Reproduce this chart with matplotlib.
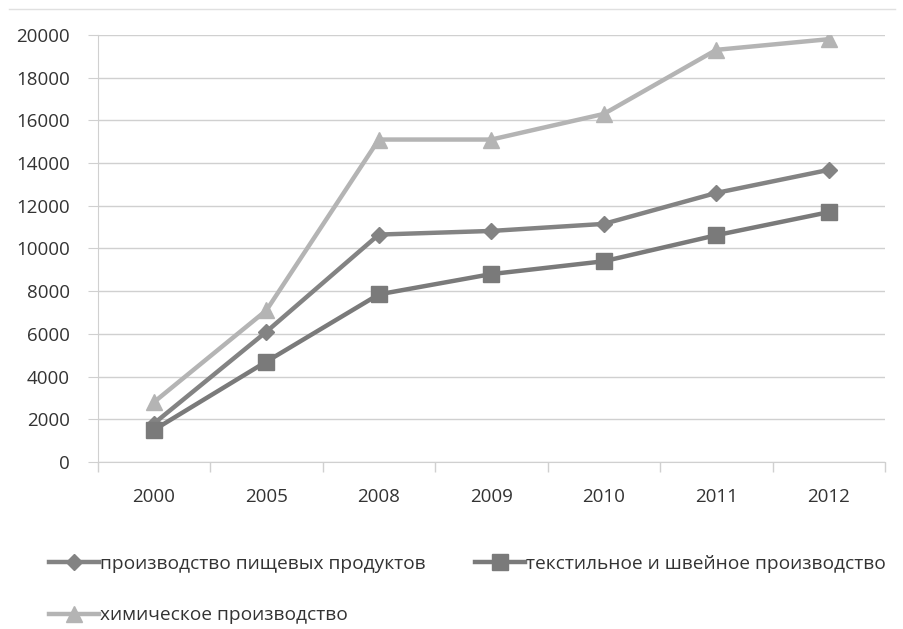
import numpy as np
import matplotlib.pyplot as plt
from matplotlib.lines import Line2D

plt.rcParams['font.family'] = ['Open Sans', 'DejaVu Sans']

# Данные
years = ['2000', '2005', '2008', '2009', '2010', '2011', '2012']
food = [1800, 6100, 10650, 10820, 11150, 12600, 13680]
textile = [1500, 4700, 7850, 8800, 9400, 10620, 11700]
chem = [2800, 7100, 15100, 15100, 16300, 19300, 19800]

labels = ['производство пищевых продуктов',
          'текстильное и швейное производство',
          'химическое производство']

c_food = '#838383'
c_text = '#7a7a7a'
c_chem = '#b4b4b4'
grid_c = '#d0d0d0'
txt_c = '#333333'

fig = plt.figure(figsize=(9.04, 6.29), dpi=100)
ax = fig.add_axes([0.108, 0.2655, 0.871, 0.679])

x = np.arange(len(years))
ax.plot(x, food, color=c_food, lw=3.2, marker='D', ms=8, zorder=3)
ax.plot(x, textile, color=c_text, lw=3.2, marker='s', ms=11, zorder=3)
ax.plot(x, chem, color=c_chem, lw=3.2, marker='^', ms=11, zorder=3)

ax.set_xlim(-0.5, len(years) - 0.5)
ax.set_ylim(0, 20000)
ax.set_yticks(np.arange(0, 20001, 2000))
ax.set_xticks(x)
ax.set_xticklabels(years)
ax.set_xticks(np.arange(-0.5, len(years), 1), minor=True)
ax.tick_params(axis='x', which='major', length=0, pad=19, labelsize=13.5, colors=txt_c)
ax.tick_params(axis='x', which='minor', length=7, color=grid_c, width=1)
ax.tick_params(axis='y', length=7, color=grid_c, pad=13, labelsize=13.5, labelcolor=txt_c)
ax.yaxis.grid(True, color=grid_c, lw=1)
ax.set_axisbelow(True)
for s in ['top', 'right']:
    ax.spines[s].set_visible(False)
ax.spines['left'].set_color(grid_c)
ax.spines['bottom'].set_color(grid_c)

# верхняя граница области диаграммы
fig.add_artist(Line2D([0.01, 0.99], [0.985, 0.985], color='#e0e0e0', lw=1))

# Легенда
handles = [Line2D([], [], color=c_food, lw=3.2, marker='D', ms=8),
           Line2D([], [], color=c_chem, lw=3.2, marker='^', ms=11),
           Line2D([], [], color=c_text, lw=3.2, marker='s', ms=11)]
leg_labels = [labels[0], labels[2], labels[1]]
fig.legend(handles, leg_labels, loc='upper left', bbox_to_anchor=(0.054, 0.118),
           ncol=2, frameon=False, fontsize=13.8, handlelength=2.6, handletextpad=0.05,
           labelspacing=1.75, columnspacing=2.6, borderpad=0, borderaxespad=0,
           labelcolor=txt_c)

fig.savefig('out.png', dpi=100, facecolor='white')
